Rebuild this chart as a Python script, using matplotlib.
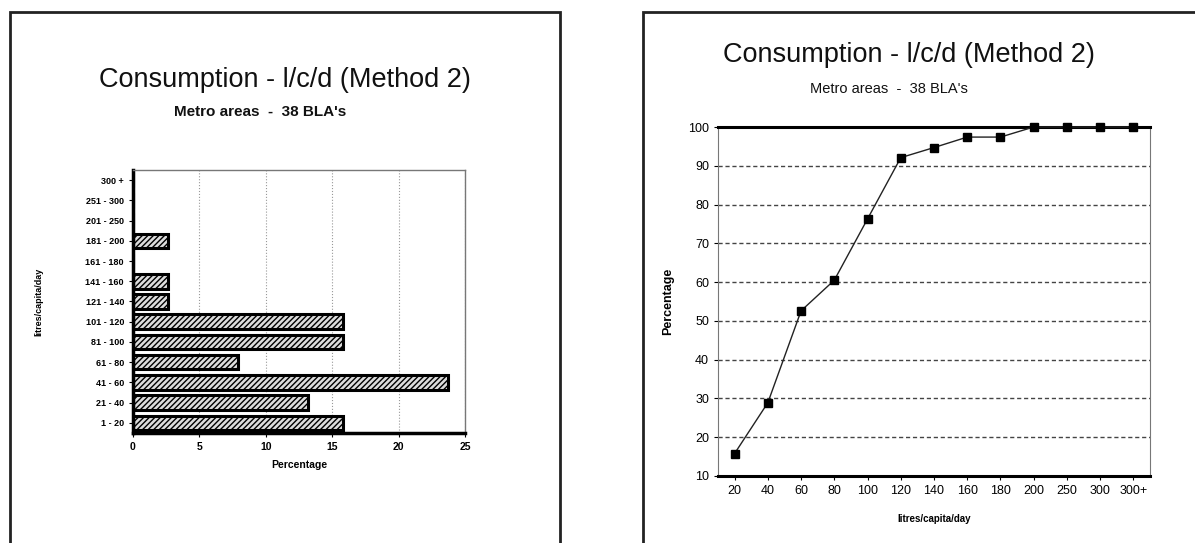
import matplotlib.pyplot as plt
from matplotlib.patches import Rectangle

# Données (38 BLA's, zones métropolitaines)
classes = ["1 - 20", "21 - 40", "41 - 60", "61 - 80", "81 - 100", "101 - 120",
           "121 - 140", "141 - 160", "161 - 180", "181 - 200", "201 - 250",
           "251 - 300", "300 +"]
pourcentages = [15.8, 13.2, 23.7, 7.9, 15.8, 15.8, 2.6, 2.6, 0, 2.6, 0, 0, 0]

seuils = ["20", "40", "60", "80", "100", "120", "140", "160", "180", "200",
          "250", "300", "300+"]
cumul = [15.8, 28.9, 52.6, 60.5, 76.3, 92.1, 94.7, 97.4, 97.4, 100, 100, 100, 100]

titre = "Consumption - l/c/d (Method 2)"
sous_titre = "Metro areas  -  38 BLA's"

W, H = 1195, 543
plt.rcParams['font.family'] = ['Liberation Sans', 'DejaVu Sans']
fig = plt.figure(figsize=(W / 100, H / 100), dpi=100)


def boite(x0, y0, x1, y1):
    # pixels (haut-gauche) -> fractions de la figure
    return [x0 / W, 1 - y1 / H, (x1 - x0) / W, (y1 - y0) / H]


# Cadres des deux panneaux
fig.patches.append(Rectangle((10 / W, -0.1), 550 / W, 1.1 - 12 / H, transform=fig.transFigure,
                             fill=False, edgecolor='#222222', linewidth=2))
fig.patches.append(Rectangle((643 / W, -0.1), 600 / W, 1.1 - 12 / H, transform=fig.transFigure,
                             fill=False, edgecolor='#222222', linewidth=2))

################################ Graphique à barres (gauche) ################################
fig.text(285 / W, 1 - 80 / H, titre, ha='center', va='center', fontsize=19.5, color='#111111')
fig.text(260 / W, 1 - 112 / H, sous_titre, ha='center', va='center', fontsize=11,
         fontweight='bold', color='#111111')

ax1 = fig.add_axes(boite(133, 170, 465, 433))
pos = range(len(classes))
ax1.barh(pos, pourcentages, height=0.72, color='#dddddd', edgecolor='black',
         linewidth=2.2, hatch='//////')
ax1.set_xlim(0, 25)
ax1.set_ylim(-0.5, len(classes) - 0.5)
ax1.set_yticks(list(pos))
ax1.set_yticklabels(classes, fontsize=6.5, fontweight='bold')
ax1.set_xticks([0, 5, 10, 15, 20, 25])
ax1.tick_params(axis='x', labelsize=7.5, length=3)
ax1.tick_params(axis='y', length=3)
for lbl in ax1.get_xticklabels():
    lbl.set_fontweight('bold')
ax1.xaxis.grid(True, linestyle=':', color='#999999', linewidth=0.8)
ax1.set_axisbelow(True)
ax1.set_xlabel("Percentage", fontsize=7.5, fontweight='bold', labelpad=6)
ax1.set_ylabel("litres/capita/day", fontsize=6.5, fontweight='bold', labelpad=30)
ax1.spines['left'].set_linewidth(2.5)
ax1.spines['bottom'].set_linewidth(2.5)
for s in ['top', 'right']:
    ax1.spines[s].set_color('#777777')
    ax1.spines[s].set_linewidth(1)

################################ Courbe cumulée (droite) ################################
fig.text(909 / W, 1 - 55 / H, titre, ha='center', va='center', fontsize=19.5, color='#111111')
fig.text(889 / W, 1 - 89 / H, sous_titre, ha='center', va='center', fontsize=10.5,
         color='#111111')

ax2 = fig.add_axes(boite(718, 127, 1150, 476))
x = range(len(seuils))
ax2.plot(x, cumul, color='#222222', linewidth=1, marker='s', markersize=6,
         markerfacecolor='black', markeredgecolor='black', clip_on=False, zorder=5)
ax2.set_xlim(-0.5, len(seuils) - 0.5)
ax2.set_ylim(10, 100)
ax2.set_yticks(range(10, 101, 10))
ax2.set_xticks(list(x))
ax2.set_xticklabels(seuils)
ax2.tick_params(labelsize=9, length=3)
ax2.yaxis.grid(True, linestyle='--', dashes=(3, 2), color='#444444', linewidth=1)
ax2.set_axisbelow(True)
ax2.set_xlabel("litres/capita/day", fontsize=7, fontweight='bold', labelpad=12)
ax2.set_ylabel("Percentage", fontsize=9, fontweight='bold', labelpad=10)
ax2.spines['top'].set_linewidth(2.2)
ax2.spines['bottom'].set_linewidth(2.2)
ax2.spines['left'].set_color('#777777')
ax2.spines['right'].set_color('#777777')

plt.savefig("out.png", dpi=100)
